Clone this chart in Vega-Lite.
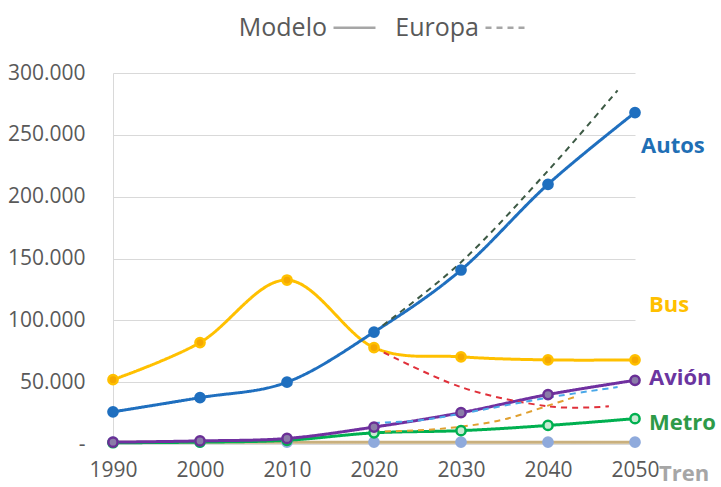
{
  "$schema": "https://vega.github.io/schema/vega-lite/v6.json",
  "width": 522,
  "height": 371,
  "autosize": "none",
  "padding": {"left": 113, "top": 73, "right": 86, "bottom": 43},
  "background": "white",
  "config": {
    "font": "Open Sans",
    "view": {"stroke": null},
    "axis": {"labelColor": "#595959", "labelFont": "Open Sans"},
    "text": {"align": "left", "baseline": "middle", "fontSize": 22, "fontWeight": "bold", "font": "Open Sans"}
  },
  "datasets": {
    "modelo": [
      {"serie": "Tren", "anio": 1990, "valor": 1500},
      {"serie": "Tren", "anio": 2000, "valor": 1500},
      {"serie": "Tren", "anio": 2010, "valor": 1500},
      {"serie": "Tren", "anio": 2020, "valor": 1500},
      {"serie": "Tren", "anio": 2030, "valor": 1500},
      {"serie": "Tren", "anio": 2040, "valor": 1500},
      {"serie": "Tren", "anio": 2050, "valor": 1500},
      {"serie": "Metro", "anio": 1990, "valor": 1000},
      {"serie": "Metro", "anio": 2000, "valor": 1500},
      {"serie": "Metro", "anio": 2010, "valor": 3000},
      {"serie": "Metro", "anio": 2020, "valor": 9000},
      {"serie": "Metro", "anio": 2030, "valor": 10800},
      {"serie": "Metro", "anio": 2040, "valor": 15000},
      {"serie": "Metro", "anio": 2050, "valor": 20500},
      {"serie": "Bus", "anio": 1990, "valor": 52000},
      {"serie": "Bus", "anio": 2000, "valor": 82000},
      {"serie": "Bus", "anio": 2010, "valor": 132600},
      {"serie": "Bus", "anio": 2020, "valor": 78000},
      {"serie": "Bus", "anio": 2030, "valor": 70500},
      {"serie": "Bus", "anio": 2040, "valor": 68000},
      {"serie": "Bus", "anio": 2050, "valor": 68000},
      {"serie": "Autos", "anio": 1990, "valor": 26000},
      {"serie": "Autos", "anio": 2000, "valor": 37500},
      {"serie": "Autos", "anio": 2010, "valor": 50000},
      {"serie": "Autos", "anio": 2020, "valor": 90500},
      {"serie": "Autos", "anio": 2030, "valor": 140700},
      {"serie": "Autos", "anio": 2040, "valor": 210000},
      {"serie": "Autos", "anio": 2050, "valor": 268000},
      {"serie": "Avión", "anio": 1990, "valor": 1500},
      {"serie": "Avión", "anio": 2000, "valor": 2500},
      {"serie": "Avión", "anio": 2010, "valor": 4500},
      {"serie": "Avión", "anio": 2020, "valor": 13700},
      {"serie": "Avión", "anio": 2030, "valor": 25300},
      {"serie": "Avión", "anio": 2040, "valor": 40000},
      {"serie": "Avión", "anio": 2050, "valor": 51500}
    ],
    "europa": [
      {"serie": "Autos", "anio": 2020, "valor": 90500},
      {"serie": "Autos", "anio": 2030, "valor": 147000},
      {"serie": "Autos", "anio": 2040, "valor": 221000},
      {"serie": "Autos", "anio": 2048, "valor": 286000},
      {"serie": "Bus", "anio": 2020, "valor": 78000},
      {"serie": "Bus", "anio": 2030, "valor": 46000},
      {"serie": "Bus", "anio": 2040, "valor": 30500},
      {"serie": "Bus", "anio": 2047, "valor": 30500},
      {"serie": "Avión", "anio": 2020, "valor": 17000},
      {"serie": "Avión", "anio": 2025, "valor": 19000},
      {"serie": "Avión", "anio": 2030, "valor": 24500},
      {"serie": "Avión", "anio": 2040, "valor": 37500},
      {"serie": "Avión", "anio": 2048, "valor": 46000},
      {"serie": "Metro", "anio": 2020, "valor": 10000},
      {"serie": "Metro", "anio": 2025, "valor": 11000},
      {"serie": "Metro", "anio": 2030, "valor": 14000},
      {"serie": "Metro", "anio": 2035, "valor": 20000},
      {"serie": "Metro", "anio": 2040, "valor": 31000},
      {"serie": "Metro", "anio": 2043.5, "valor": 39000}
    ],
    "etiquetas": [
      {"serie": "Autos", "anio": 2050, "valor": 241000},
      {"serie": "Bus", "anio": 2050, "valor": 112000},
      {"serie": "Avión", "anio": 2050, "valor": 53000},
      {"serie": "Metro", "anio": 2050, "valor": 17000},
      {"serie": "Tren", "anio": 2050, "valor": -24000}
    ]
  },
  "encoding": {
    "x": {
      "field": "anio",
      "type": "quantitative",
      "scale": {"domain": [1990, 2050], "nice": false, "zero": false},
      "axis": {
        "title": null,
        "values": [1990, 2000, 2010, 2020, 2030, 2040, 2050],
        "format": "d",
        "grid": false,
        "domain": false,
        "ticks": false,
        "labelFlush": false,
        "labelOverlap": false,
        "labelFontSize": 21,
        "labelPadding": 15
      }
    },
    "y": {
      "field": "valor",
      "type": "quantitative",
      "scale": {"domain": [0, 300000], "nice": false, "zero": false},
      "axis": {
        "title": null,
        "values": [0, 50000, 100000, 150000, 200000, 250000, 300000],
        "labelExpr": "datum.value == 0 ? '-\u2007' : replace(format(datum.value, ','), ',', '.')",
        "labelFontSize": 21,
        "labelPadding": 28,
        "labelFlush": false,
        "ticks": false,
        "domain": true,
        "domainColor": "#d9d9d9",
        "domainWidth": 1,
        "gridColor": "#d9d9d9",
        "gridWidth": 1
      }
    }
  },
  "layer": [
    {
      "data": {"name": "modelo"},
      "mark": {"type": "line", "interpolate": "cardinal", "strokeWidth": 3},
      "encoding": {
        "detail": {"field": "serie"},
        "color": {
          "field": "serie",
          "type": "nominal",
          "scale": {
            "domain": ["Autos", "Bus", "Avión", "Metro", "Tren"],
            "range": ["#1f6fbf", "#ffc000", "#7030a0", "#00b050", "#c9b07e"]
          },
          "legend": null
        },
        "order": {"field": "anio"},
        "strokeDash": {
          "datum": "Modelo",
          "type": "nominal",
          "scale": {"domain": ["Modelo", "Europa"], "range": [[1, 0], [6, 5]]},
          "legend": {
            "title": null,
            "orient": "none",
            "legendX": 219,
            "legendY": -68,
            "direction": "horizontal",
            "symbolType": "stroke",
            "symbolSize": 1764,
            "symbolStrokeWidth": 2.5,
            "symbolStrokeColor": "#a6a6a6",
            "labelFont": "Open Sans",
            "labelFontSize": 25,
            "labelColor": "#595959",
            "labelAlign": "right",
            "labelOffset": -50,
            "columnPadding": 14,
            "labelLimit": 200
          }
        }
      }
    },
    {
      "data": {"name": "europa"},
      "mark": {"type": "line", "interpolate": "cardinal", "strokeWidth": 2},
      "encoding": {
        "detail": {"field": "serie"},
        "color": {
          "field": "serie",
          "type": "nominal",
          "scale": {
            "domain": ["Autos", "Bus", "Avión", "Metro"],
            "range": ["#3d5a45", "#e0303a", "#4aa8e8", "#e0a030"]
          },
          "legend": null
        },
        "order": {"field": "anio"},
        "strokeDash": {"datum": "Europa", "type": "nominal"}
      }
    },
    {
      "data": {"name": "modelo"},
      "mark": {"type": "point", "filled": true, "strokeWidth": 2.5, "opacity": 1},
      "encoding": {
        "size": {
          "field": "serie",
          "type": "nominal",
          "scale": {
            "domain": ["Autos", "Bus", "Avión", "Metro", "Tren"],
            "range": [85, 85, 85, 85, 30]
          },
          "legend": null
        },
        "fill": {
          "field": "serie",
          "type": "nominal",
          "scale": {
            "domain": ["Autos", "Bus", "Avión", "Metro", "Tren"],
            "range": ["#1f6fbf", "#f5a800", "#8a7ca8", "#c8ead2", "#8faadc"]
          },
          "legend": null
        },
        "stroke": {
          "field": "serie",
          "type": "nominal",
          "scale": {
            "domain": ["Autos", "Bus", "Avión", "Metro", "Tren"],
            "range": ["#1f6fbf", "#ffc000", "#6a2f96", "#00b050", "#8faadc"]
          },
          "legend": null
        }
      }
    },
    {
      "data": {"name": "etiquetas"},
      "transform": [{"filter": "datum.serie === 'Autos'"}],
      "mark": {"type": "text", "dx": 6},
      "encoding": {
        "text": {"field": "serie"},
        "color": {"value": "#1f6fb5"}
      }
    },
    {
      "data": {"name": "etiquetas"},
      "transform": [{"filter": "datum.serie !== 'Autos' && datum.serie !== 'Tren'"}],
      "mark": {"type": "text", "dx": 14},
      "encoding": {
        "text": {"field": "serie"},
        "color": {
          "field": "serie",
          "type": "nominal",
          "scale": {
            "domain": ["Bus", "Avión", "Metro"],
            "range": ["#ffc000", "#6b35a0", "#2e9a48"]
          },
          "legend": null
        }
      }
    },
    {
      "data": {"name": "etiquetas"},
      "transform": [{"filter": "datum.serie === 'Tren'"}],
      "mark": {"type": "text", "dx": 24},
      "encoding": {
        "text": {"field": "serie"},
        "color": {"value": "#a6a6a6"}
      }
    }
  ],
  "resolve": {
    "scale": {"color": "independent", "fill": "independent", "stroke": "independent", "size": "independent"},
    "legend": {"color": "independent"}
  }
}
